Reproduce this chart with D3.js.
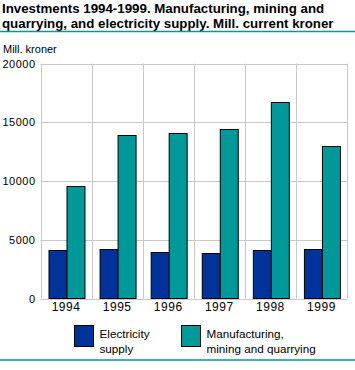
<!DOCTYPE html>
<html><head><meta charset="utf-8">
<script src="https://cdn.jsdelivr.net/npm/d3@7"></script>
<style>
body{margin:0;background:#fff;}
text{font-family:"Liberation Sans",Arial,sans-serif;}
</style></head>
<body>
<svg id="c" width="355" height="370"></svg>
<script>
const years = ["1994","1995","1996","1997","1998","1999"];
const seriesNames = ["Electricity supply","Manufacturing, mining and quarrying"];
const electricity = [4100, 4250, 4000, 3900, 4170, 4250];
const manufacturing = [9600, 13950, 14100, 14400, 16700, 12950];
const yTicks = [0, 5000, 10000, 15000, 20000];
const titleLines = ["Investments 1994-1999. Manufacturing, mining and","quarrying, and electricity supply. Mill. current kroner"];
const yUnit = "Mill. kroner";
const colors = ["#003399","#009999"];
const legendLines = [["Electricity","supply"],["Manufacturing,","mining and quarrying"]];

const svg = d3.select("#c");
const m = {l:40.5, r:347, t:63.5, b:298.5};

svg.selectAll("text.title").data(titleLines).join("text")
  .attr("x",2).attr("y",(d,i)=>12.5+i*15)
  .attr("font-size",13.3).attr("font-weight","bold").attr("fill","#000")
  .text(d=>d);
svg.append("line").attr("x1",0).attr("x2",355).attr("y1",31.5).attr("y2",31.5)
  .attr("stroke","#009999").attr("stroke-width",1.5);
svg.append("line").attr("x1",0).attr("x2",355).attr("y1",360).attr("y2",360)
  .attr("stroke","#009999").attr("stroke-width",1.5);

svg.append("text").attr("x",3).attr("y",53).attr("font-size",11).text(yUnit);

const x = d3.scaleBand().domain(years).range([m.l,m.r]).padding(0);
const x1 = d3.scaleBand().domain(seriesNames).range([0,x.bandwidth()]).paddingInner(0).paddingOuter(0.42);
const y = d3.scaleLinear().domain([0,20000]).range([m.b,m.t]);

// grid
svg.append("g").selectAll("line").data(yTicks).join("line")
  .attr("x1",m.l).attr("x2",m.r).attr("y1",d=>Math.round(y(d))+0.5).attr("y2",d=>Math.round(y(d))+0.5)
  .attr("stroke","#c8c8c8");
const vx = years.map(d=>x(d)).concat([m.r]);
svg.append("g").selectAll("line").data(vx).join("line")
  .attr("x1",d=>Math.round(d)+0.5).attr("x2",d=>Math.round(d)+0.5).attr("y1",m.t).attr("y2",m.b)
  .attr("stroke","#c8c8c8");

// y axis labels
const yAxis = d3.axisLeft(y).tickValues(yTicks).tickSize(0).tickPadding(5).tickFormat(d3.format("d"));
const ga = svg.append("g").attr("transform",`translate(${m.l},0)`).call(yAxis);
ga.select(".domain").remove();
ga.selectAll("text").attr("font-size",11).attr("font-family","Liberation Sans, Arial, sans-serif").attr("fill","#000").attr("letter-spacing","0.5");

// x axis labels
const xAxis = d3.axisBottom(x).tickSize(0).tickPadding(4);
const gx = svg.append("g").attr("transform",`translate(0,${m.b})`).call(xAxis);
gx.select(".domain").remove();
gx.selectAll("text").attr("font-size",12).attr("font-family","Liberation Sans, Arial, sans-serif").attr("fill","#000").attr("letter-spacing","0.5");

// bars
const data = years.map((yr,i)=>({yr, vals:[electricity[i], manufacturing[i]]}));
const g = svg.append("g").selectAll("g").data(data).join("g")
  .attr("transform",d=>`translate(${x(d.yr)},0)`);
g.selectAll("rect").data(d=>d.vals.map((v,j)=>({v,name:seriesNames[j],j}))).join("rect")
  .attr("x",d=>Math.round(x1(d.name))+0.5)
  .attr("y",d=>Math.round(y(d.v))+0.5)
  .attr("width",x1.bandwidth())
  .attr("height",d=>m.b - Math.round(y(d.v)) - 0.5)
  .attr("fill",d=>colors[d.j]).attr("stroke","#000").attr("stroke-width",1);

// legend
const lx = [74.5, 181.5];
const lg = svg.append("g").selectAll("g").data(seriesNames).join("g");
lg.append("rect").attr("x",(d,i)=>lx[i]).attr("y",325.5).attr("width",19).attr("height",21)
  .attr("fill",(d,i)=>colors[i]).attr("stroke","#000");
lg.each(function(d,i){
  d3.select(this).selectAll("text").data(legendLines[i]).join("text")
    .attr("x",lx[i]+25).attr("y",(t,k)=>337.5+k*15).attr("font-size",11.7).text(t=>t);
});
</script>
</body></html>
